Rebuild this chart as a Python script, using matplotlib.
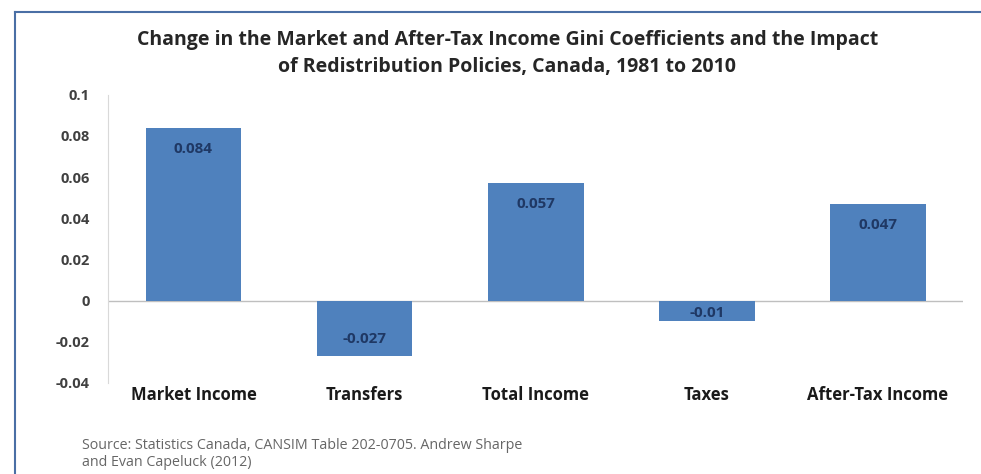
import matplotlib.pyplot as plt
from matplotlib.lines import Line2D

# data
categories = ['Market Income', 'Transfers', 'Total Income', 'Taxes', 'After-Tax Income']
values = [0.084, -0.027, 0.057, -0.01, 0.047]
value_labels = ['0.084', '-0.027', '0.057', '-0.01', '0.047']
yticks = [-0.04, -0.02, 0, 0.02, 0.04, 0.06, 0.08, 0.1]
ytick_labels = ['-0.04', '-0.02', '0', '0.02', '0.04', '0.06', '0.08', '0.1']

plt.rcParams['font.family'] = ['Open Sans', 'DejaVu Sans']

fig = plt.figure(figsize=(9.81, 4.74), dpi=100)
ax = fig.add_axes([0.110, 0.192, 0.872, 0.608])

bar_color = '#4F81BD'
x = range(len(categories))
ax.bar(x, values, width=0.56, color=bar_color, zorder=2)

# value labels inside bar ends
for xi, v, lab in zip(x, values, value_labels):
    if v > 0:
        off = -21
    elif v > -0.015:
        off = 8
    else:
        off = 17
    ax.annotate(lab, (xi, v), xytext=(0, off * 0.72), textcoords='offset points',
                ha='center', va='center', fontsize=11, fontweight='bold', color='#1F3864')

ax.set_xlim(-0.5, 4.5)
ax.set_ylim(-0.04, 0.1)
ax.set_yticks(yticks)
ax.set_yticklabels(ytick_labels, fontsize=10.5, fontweight='bold', color='#404040')
ax.tick_params(axis='y', length=0, pad=13)
ax.set_xticks([])
ax.axhline(0, color='#BFBFBF', linewidth=1, zorder=1)

for side in ['top', 'right', 'bottom']:
    ax.spines[side].set_visible(False)
ax.spines['left'].set_color('#D9D9D9')

# category labels below plot area
for xi, cat in zip(x, categories):
    ax.text(xi, -0.0456, cat, ha='center', va='center', fontsize=12,
            fontweight='bold', color='#1a1a1a')

# title
fig.text(0.517, 0.915, 'Change in the Market and After-Tax Income Gini Coefficients and the Impact',
         ha='center', va='center', fontsize=14, fontweight='bold', color='#262626')
fig.text(0.517, 0.859, 'of Redistribution Policies, Canada, 1981 to 2010',
         ha='center', va='center', fontsize=14, fontweight='bold', color='#262626')

# source note
fig.text(0.084, 0.061, 'Source: Statistics Canada, CANSIM Table 202-0705. Andrew Sharpe',
         ha='left', va='center', fontsize=10.3, color='#666666')
fig.text(0.084, 0.025, 'and Evan Capeluck (2012)',
         ha='left', va='center', fontsize=10.3, color='#666666')

# outer frame (top and left edges)
frame_color = '#4A6FA5'
fig.add_artist(Line2D([15 / 981, 1.0], [1 - 12 / 474, 1 - 12 / 474], transform=fig.transFigure,
                      color=frame_color, linewidth=1.5))
fig.add_artist(Line2D([15 / 981, 15 / 981], [0.0, 1 - 12 / 474], transform=fig.transFigure,
                      color=frame_color, linewidth=1.5))

fig.savefig('out.png', dpi=100)
